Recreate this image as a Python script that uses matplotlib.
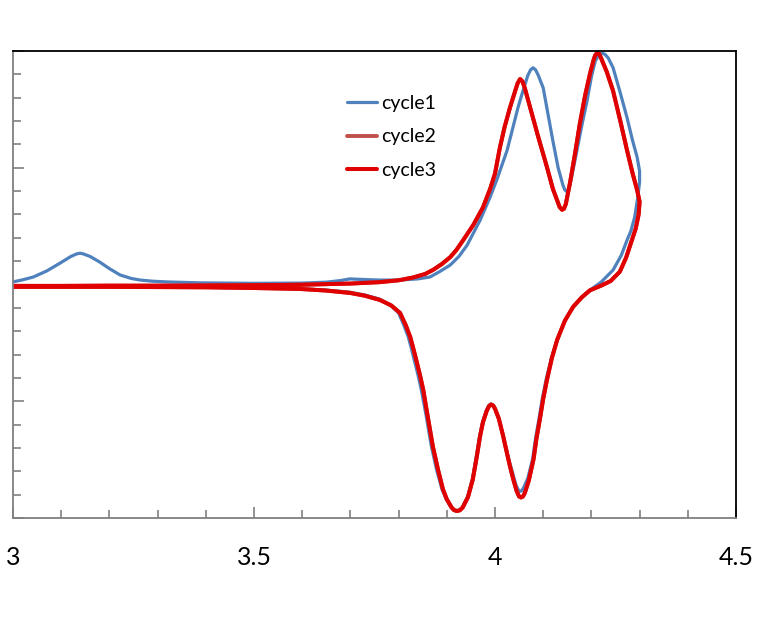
import matplotlib
matplotlib.use("Agg")
import matplotlib.pyplot as plt
from matplotlib.ticker import MultipleLocator

# ---------------- data ----------------
# cycle 3 : anodic (upper) branch, then cathodic (lower) branch
c3_x = [3.000, 3.100, 3.200, 3.300, 3.400, 3.500, 3.600, 3.700, 3.760, 3.800,
        3.830, 3.855, 3.871, 3.890, 3.907, 3.920, 3.934, 3.955, 3.975, 3.990,
        4.000, 4.010, 4.020, 4.031, 4.042, 4.047, 4.052, 4.057, 4.062, 4.073,
        4.090, 4.108, 4.120, 4.129, 4.134, 4.139, 4.143, 4.147, 4.156, 4.166,
        4.176, 4.187, 4.197, 4.205, 4.208, 4.212, 4.216, 4.220, 4.232, 4.245,
        4.260, 4.274, 4.285, 4.295, 4.300,
        4.298, 4.292, 4.284, 4.272, 4.259, 4.240, 4.220, 4.197, 4.180, 4.162,
        4.145, 4.129, 4.118, 4.108, 4.100, 4.093, 4.086, 4.080, 4.070, 4.062,
        4.058, 4.054, 4.050, 4.045, 4.038, 4.031, 4.024, 4.017, 4.008, 4.000,
        3.996, 3.992, 3.988, 3.983, 3.975, 3.969, 3.962, 3.954, 3.944, 3.933,
        3.927, 3.921, 3.915, 3.910, 3.900, 3.892, 3.882, 3.871, 3.860, 3.851,
        3.844, 3.838, 3.830, 3.824, 3.815, 3.803, 3.785, 3.761, 3.730, 3.699,
        3.650, 3.595, 3.500, 3.400, 3.300, 3.200, 3.100, 3.000]
c3_y = [-0.06, -0.06, -0.05, -0.05, -0.04, -0.03, -0.01, 0.04, 0.10, 0.18,
        0.30, 0.45, 0.62, 0.88, 1.17, 1.48, 1.90, 2.55, 3.30, 4.10,
        4.75, 5.85, 6.75, 7.57, 8.30, 8.62, 8.80, 8.70, 8.40, 7.57,
        6.30, 5.01, 4.10, 3.60, 3.32, 3.20, 3.24, 3.45, 4.40, 5.60,
        6.89, 8.10, 9.02, 9.65, 9.82, 9.92, 9.88, 9.70, 9.10, 8.29,
        7.00, 5.74, 4.80, 4.03, 3.55,
        3.00, 2.40, 1.90, 1.15, 0.55, 0.15, -0.05, -0.25, -0.55, -0.96,
        -1.55, -2.37, -3.15, -4.07, -4.90, -5.78, -6.60, -7.48, -8.40, -8.92,
        -9.08, -9.12, -9.08, -8.85, -8.35, -7.78, -7.15, -6.50, -5.75, -5.32,
        -5.18, -5.14, -5.20, -5.40, -5.90, -6.50, -7.40, -8.34, -9.10, -9.55,
        -9.67, -9.70, -9.66, -9.55, -9.20, -8.77, -7.95, -6.93, -5.60, -4.50,
        -3.85, -3.35, -2.70, -2.24, -1.75, -1.22, -0.90, -0.66, -0.48, -0.36,
        -0.26, -0.19, -0.15, -0.12, -0.11, -0.10, -0.10, -0.10]

# cycle 2 : practically identical to cycle 3 (hidden beneath it)
c2_x = list(c3_x)
c2_y = list(c3_y)

# cycle 1
c1_x = [3.000, 3.020, 3.042, 3.070, 3.098, 3.120, 3.132, 3.139, 3.146, 3.160,
        3.180, 3.200, 3.222, 3.245, 3.264, 3.290, 3.320, 3.388, 3.500, 3.600,
        3.650, 3.680, 3.699, 3.720, 3.760, 3.803, 3.840, 3.865, 3.885, 3.907,
        3.925, 3.942, 3.969, 3.990, 4.004, 4.025, 4.037, 4.048, 4.058, 4.068,
        4.074, 4.079, 4.084, 4.090, 4.100, 4.110, 4.120, 4.131, 4.141, 4.145,
        4.149, 4.153, 4.158, 4.170, 4.180, 4.191, 4.200, 4.208, 4.216, 4.222,
        4.228, 4.235, 4.245, 4.260, 4.274, 4.285, 4.295, 4.300,
        4.300, 4.296, 4.290, 4.282, 4.274, 4.262, 4.245, 4.220, 4.197, 4.180,
        4.162, 4.145, 4.129, 4.117, 4.106, 4.098, 4.091, 4.084, 4.078, 4.068,
        4.059, 4.055, 4.051, 4.047, 4.043, 4.037, 4.030, 4.023, 4.016, 4.007,
        3.999, 3.995, 3.991, 3.987, 3.982, 3.974, 3.968, 3.961, 3.953, 3.943,
        3.932, 3.926, 3.920, 3.914, 3.909, 3.899, 3.890, 3.879, 3.868, 3.857,
        3.847, 3.840, 3.834, 3.826, 3.820, 3.811, 3.800, 3.783, 3.760, 3.730,
        3.699, 3.650, 3.595, 3.500, 3.400, 3.300, 3.200, 3.100, 3.000]
c1_y = [0.11, 0.20, 0.32, 0.58, 0.92, 1.20, 1.31, 1.34, 1.31, 1.20,
        0.96, 0.68, 0.41, 0.26, 0.19, 0.14, 0.11, 0.07, 0.05, 0.06,
        0.10, 0.17, 0.24, 0.22, 0.19, 0.19, 0.24, 0.32, 0.55, 0.83,
        1.20, 1.68, 2.75, 3.75, 4.50, 5.74, 6.72, 7.60, 8.29, 8.95,
        9.20, 9.28, 9.20, 8.95, 8.42, 7.30, 6.16, 5.00, 4.25, 4.05,
        3.98, 4.08, 4.50, 5.74, 6.80, 7.87, 8.90, 9.57, 9.85, 9.90,
        9.86, 9.70, 9.28, 8.20, 7.14, 6.20, 5.44, 4.85,
        4.40, 3.70, 2.90, 2.30, 1.90, 1.25, 0.62, 0.10, -0.24, -0.55,
        -0.96, -1.55, -2.37, -3.15, -4.07, -4.90, -5.78, -6.60, -7.48, -8.30,
        -8.72, -8.84, -8.86, -8.75, -8.55, -8.10, -7.60, -7.00, -6.40, -5.70,
        -5.25, -5.15, -5.12, -5.18, -5.40, -5.90, -6.50, -7.40, -8.34, -9.10,
        -9.55, -9.66, -9.70, -9.66, -9.55, -9.20, -8.77, -7.95, -6.93, -5.60,
        -4.50, -3.85, -3.35, -2.70, -2.24, -1.75, -1.22, -0.88, -0.62, -0.45,
        -0.33, -0.24, -0.18, -0.14, -0.12, -0.11, -0.10, -0.10, -0.10]

series_labels = ["cycle1", "cycle2", "cycle3"]
x_ticklabels = ["3", "3.5", "4", "4.5"]
x_tickvals = [3.0, 3.5, 4.0, 4.5]

# ---------------- figure ----------------
W, H = 775, 617
fig = plt.figure(figsize=(W / 100, H / 100), dpi=100)
L, R, T, B = 13, 736, 51, 518
ax = fig.add_axes([L / W, 1 - B / H, (R - L) / W, (B - T) / H])

colors = ["#4F81BD", "#C0504D", "#E00000"]
widths = [2.3, 2.8, 2.9]
for xs, ys, lab, col, lw in zip([c1_x, c2_x, c3_x], [c1_y, c2_y, c3_y],
                                series_labels, colors, widths):
    ax.plot(xs, ys, color=col, lw=lw, label=lab, solid_joinstyle="round",
            solid_capstyle="round")

ax.set_xlim(3.0, 4.5)
ax.set_ylim(-10, 10)

ax.set_xticks(x_tickvals)
ax.set_xticklabels(x_ticklabels, fontfamily="Lato", fontsize=18)
ax.xaxis.set_minor_locator(MultipleLocator(0.1))
ax.yaxis.set_major_locator(MultipleLocator(5))
ax.yaxis.set_minor_locator(MultipleLocator(1))
ax.set_yticklabels([])
ax.tick_params(axis="both", which="both", direction="in", color="#808080", width=1.2)
ax.tick_params(axis="both", which="major", length=8)
ax.tick_params(axis="both", which="minor", length=5.5)
ax.tick_params(axis="x", which="major", pad=20)
ax.tick_params(axis="y", which="both", left=True, labelleft=False)

for s in ["left", "bottom"]:
    ax.spines[s].set_color("#808080")
    ax.spines[s].set_linewidth(1.3)
for s in ["top", "right"]:
    ax.spines[s].set_color("black")
    ax.spines[s].set_linewidth(1.3)

leg = ax.legend(loc="upper left", bbox_to_anchor=((347 - L) / (R - L), (B - 95) / (B - T)),
                frameon=False, prop={"family": "Lato", "size": 14},
                handlelength=1.55, handletextpad=0.2, labelspacing=0.84,
                borderpad=0, borderaxespad=0)

fig.savefig("out.png", dpi=100)
